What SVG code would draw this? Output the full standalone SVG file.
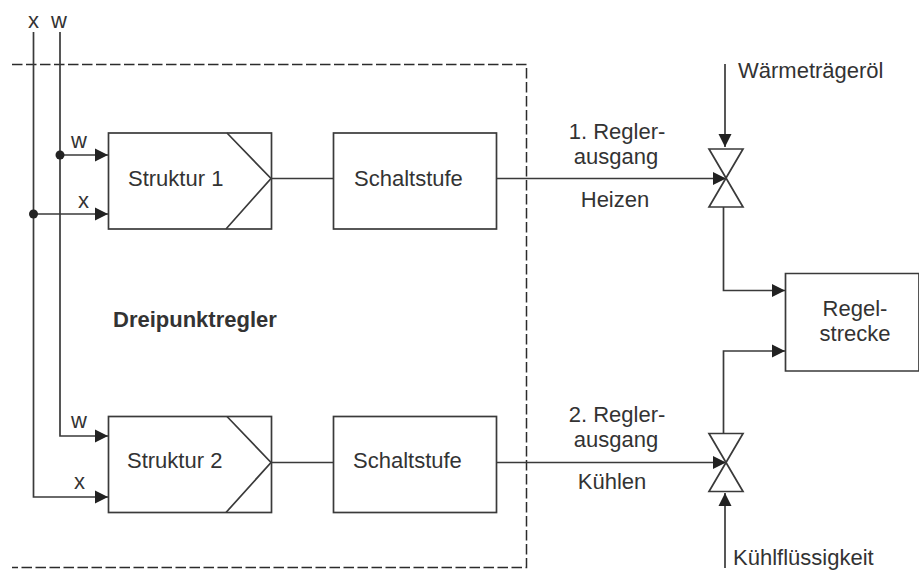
<svg xmlns="http://www.w3.org/2000/svg" width="919" height="570" viewBox="0 0 919 570">
<style>
text{font-family:"Liberation Sans",Arial,sans-serif;font-size:22px;fill:#333}
.m{text-anchor:middle}
.b{fill:#fff;stroke:#3a3a3a;stroke-width:1.7}
.l{fill:none;stroke:#3a3a3a;stroke-width:1.7}
.d{fill:none;stroke:#2b2b2b;stroke-width:1.5;stroke-dasharray:10.5 3.5}
.dot{fill:#222}
</style>
<defs>
<marker id="a" markerUnits="userSpaceOnUse" markerWidth="14" markerHeight="14" refX="13" refY="7" orient="auto"><path d="M0 0.500L13 7L0 13.500Z" fill="#222"/></marker>
</defs>
<path id="boundary" class="d" d="M12 64.500H526.500V567.500H12"/>
<g id="connectors">
<path class="l" d="M33.500 32V497H108" marker-end="url(#a)"/>
<path class="l" d="M60 32V436H108" marker-end="url(#a)"/>
<path class="l" d="M60 155H108" marker-end="url(#a)"/>
<path class="l" d="M33.500 214H108" marker-end="url(#a)"/>
<path class="l" d="M271 178.500H333"/>
<path class="l" d="M271 462.500H333"/>
<path class="l" d="M496 178.500H726" marker-end="url(#a)"/>
<path class="l" d="M496 462.500H726" marker-end="url(#a)"/>
<path class="l" d="M725 64V147" marker-end="url(#a)"/>
<path class="l" d="M725 568V493" marker-end="url(#a)"/>
<path class="l" d="M723.500 207V290.500H785" marker-end="url(#a)"/>
<path class="l" d="M723.500 433V351H785" marker-end="url(#a)"/>
<circle class="dot" cx="60" cy="155" r="4.500"/>
<circle class="dot" cx="33.500" cy="214" r="4.500"/>
</g>
<g id="valve1"><path class="l" d="M709 149H743L709 207H743Z"/></g>
<g id="valve2"><path class="l" d="M709 433.500H743L709 491.500H743Z"/></g>
<g id="struktur1"><rect class="b" x="108.500" y="133" width="163" height="96"/><path class="l" d="M227 133L271 178.500L226 229"/><text x="128" y="186">Struktur 1</text></g>
<g id="struktur2"><rect class="b" x="108.500" y="416.500" width="163" height="96"/><path class="l" d="M227 416.500L271 462.500L226 512.500"/><text x="127" y="468">Struktur 2</text></g>
<g id="schalt1"><rect class="b" x="333.500" y="133" width="163" height="96"/><text x="354" y="186">Schaltstufe</text></g>
<g id="schalt2"><rect class="b" x="333.500" y="416.500" width="163" height="96"/><text x="353" y="468">Schaltstufe</text></g>
<g id="regelstrecke"><path class="b" d="M785.500 371V273.500H919V371Z"/><text class="m" x="855" y="316">Regel-</text><text class="m" x="855" y="341">strecke</text></g>
<g id="labels">
<text x="28" y="28">x</text><text x="51" y="28">w</text>
<text x="71" y="148">w</text><text x="78" y="208">x</text>
<text x="71" y="428">w</text><text x="74" y="489">x</text>
<text x="113" y="327" style="font-weight:700">Dreipunktregler</text>
<text class="m" x="617" y="139">1. Regler-</text><text class="m" x="616" y="164">ausgang</text><text class="m" x="615" y="207">Heizen</text>
<text class="m" x="617" y="422">2. Regler-</text><text class="m" x="616" y="447">ausgang</text><text class="m" x="612" y="489">Kühlen</text>
<text x="738" y="78">Wärmeträgeröl</text>
<text x="733" y="565">Kühlflüssigkeit</text>
</g>
</svg>
